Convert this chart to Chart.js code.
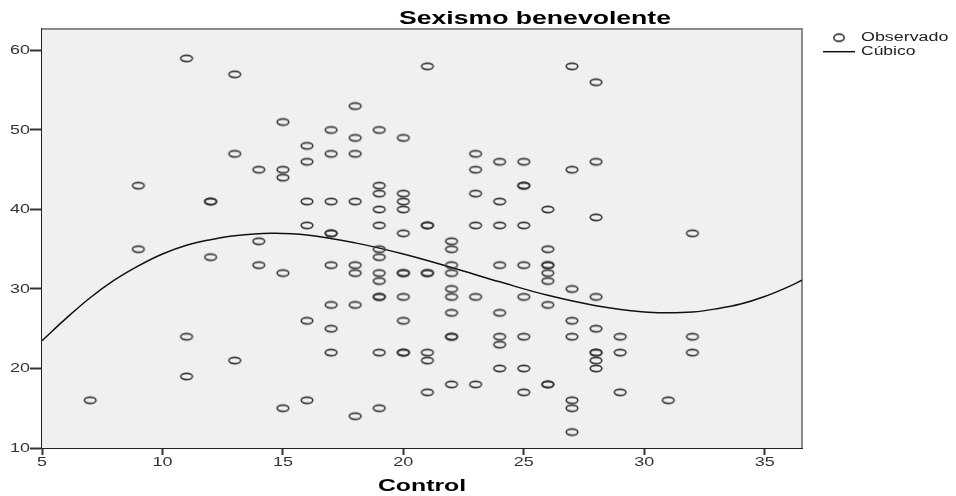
<!DOCTYPE html>
<html>
<head>
<meta charset="utf-8">
<script src="https://cdn.jsdelivr.net/npm/chart.js@4/dist/chart.umd.min.js"></script>
<style>
    html, body { margin: 0; padding: 0; background: #fff; }
    #wrap { width: 956px; height: 496px; position: relative; }
</style>
</head>
<body>
<div id="wrap"><canvas id="myChart"></canvas></div>
<script>
// Observed points: Control (x) and Sexismo benevolente (y)
const control = [
    7,
    9, 9,
    11, 11, 11,
    12, 12, 12,
    13, 13, 13,
    14, 14, 14,
    15, 15, 15, 15, 15,
    16, 16, 16, 16, 16, 16,
    17, 17, 17, 17, 17, 17, 17, 17, 17,
    18, 18, 18, 18, 18, 18, 18, 18,
    19, 19, 19, 19, 19, 19, 19, 19, 19, 19, 19, 19, 19,
    20, 20, 20, 20, 20, 20, 20, 20, 20, 20, 20,
    21, 21, 21, 21, 21, 21, 21, 21,
    22, 22, 22, 22, 22, 22, 22, 22, 22, 22,
    23, 23, 23, 23, 23, 23,
    24, 24, 24, 24, 24, 24, 24, 24,
    25, 25, 25, 25, 25, 25, 25, 25, 25,
    26, 26, 26, 26, 26, 26, 26, 26, 26,
    27, 27, 27, 27, 27, 27, 27, 27,
    28, 28, 28, 28, 28, 28, 28, 28, 28,
    29, 29, 29,
    31,
    32, 32, 32
];
const sexismo = [
    16,
    43, 35,
    59, 24, 19,
    41, 41, 34,
    57, 47, 21,
    45, 36, 33,
    51, 45, 44, 32, 15,
    48, 46, 41, 38, 26, 16,
    50, 47, 41, 37, 37, 33, 28, 25, 22,
    53, 49, 47, 41, 33, 32, 28, 14,
    50, 43, 42, 40, 38, 35, 34, 32, 31, 29, 29, 22, 15,
    49, 42, 41, 40, 37, 32, 32, 29, 26, 22, 22,
    58, 38, 38, 32, 32, 22, 21, 17,
    36, 35, 33, 32, 30, 29, 27, 24, 24, 18,
    47, 45, 42, 38, 29, 18,
    46, 41, 38, 33, 27, 24, 23, 20,
    46, 43, 43, 38, 33, 29, 24, 20, 17,
    40, 35, 33, 33, 32, 31, 28, 18, 18,
    58, 45, 30, 26, 24, 16, 15, 12,
    56, 46, 39, 29, 25, 22, 22, 21, 20,
    24, 22, 17,
    16,
    37, 24, 22
];

// Cubic fit line
const fitX = [5, 6, 7, 8, 9, 10, 11, 12, 13, 14.5, 16, 18, 20, 22, 24, 26, 28, 30, 31, 32, 33, 34, 35, 36, 36.55];
const fitY = [23.5, 26.3, 28.9, 31.1, 32.9, 34.4, 35.5, 36.2, 36.7, 37, 36.8, 35.8, 34.4, 32.7, 30.9, 29.2, 27.9, 27.1, 27, 27.1, 27.5, 28.1, 29.05, 30.3, 31.1];

// Axis ticks
const xTicks = [5, 10, 15, 20, 25, 30, 35];
const yTicks = [10, 20, 30, 40, 50, 60];

const FONT = "'Liberation Sans', Arial, sans-serif";

// Small ellipse used as the marker (the picture is stretched sideways)
function makeMarker(rx, ry) {
    const c = document.createElement('canvas');
    c.width = 16;
    c.height = 11;
    const g = c.getContext('2d');
    g.strokeStyle = '#383838';
    g.lineWidth = 1.6;
    g.beginPath();
    g.ellipse(8, 5.5, rx, ry, 0, 0, Math.PI * 2);
    g.stroke();
    return c;
}
const marker = makeMarker(5.8, 3.1);
const legendMarker = makeMarker(5.2, 3.6);

// Draw text squeezed/stretched horizontally
function wideText(ctx, text, x, y, font, sx, align, color) {
    ctx.save();
    ctx.font = font;
    ctx.fillStyle = color;
    ctx.textAlign = align;
    ctx.textBaseline = 'middle';
    ctx.translate(x, y);
    ctx.scale(sx, 1);
    ctx.fillText(text, 0, 0);
    ctx.restore();
}

// Plot background, frame, labels and legend
const decorations = {
    id: 'decorations',
    beforeDatasetsDraw(chart) {
        const { ctx, chartArea: a } = chart;
        ctx.save();
        ctx.fillStyle = '#f0f0f0';
        ctx.fillRect(a.left, a.top, a.right - a.left, a.bottom - a.top);
        ctx.strokeStyle = '#8a8a8a';
        ctx.lineWidth = 2;
        ctx.beginPath();
        ctx.moveTo(a.left, a.top);
        ctx.lineTo(a.right, a.top);
        ctx.lineTo(a.right, a.bottom);
        ctx.stroke();
        ctx.restore();
    },
    afterDraw(chart) {
        const { ctx, chartArea: a, scales } = chart;
        const tickFont = '13px ' + FONT;

        xTicks.forEach(v => {
            wideText(ctx, String(v), scales.x.getPixelForValue(v), a.bottom + 14, tickFont, 1.38, 'center', '#333');
        });
        yTicks.forEach(v => {
            wideText(ctx, String(v), a.left - 12, scales.y.getPixelForValue(v), tickFont, 1.38, 'right', '#333');
        });

        // titles
        wideText(ctx, 'Sexismo benevolente', 535, 19, 'bold 17.5px ' + FONT, 1.52, 'center', '#000');
        wideText(ctx, 'Control', (a.left + a.right) / 2, 487, 'bold 16px ' + FONT, 1.55, 'center', '#000');

        // legend
        ctx.drawImage(legendMarker, 839 - 8, 37.7 - 5.5);
        wideText(ctx, 'Observado', 861, 37.7, '12.5px ' + FONT, 1.43, 'left', '#222');
        ctx.save();
        ctx.strokeStyle = '#111';
        ctx.lineWidth = 1.5;
        ctx.beginPath();
        ctx.moveTo(823, 51.7);
        ctx.lineTo(855, 51.7);
        ctx.stroke();
        ctx.restore();
        wideText(ctx, 'Cúbico', 861, 51.7, '12.5px ' + FONT, 1.4, 'left', '#222');
    }
};

const data = {
    datasets: [
        {
            label: 'Observado',
            data: control.map((c, i) => ({ x: c, y: sexismo[i] })),
            pointStyle: marker,
            pointRadius: 5,
            showLine: false
        },
        {
            label: 'Cúbico',
            data: fitX.map((x, i) => ({ x: x, y: fitY[i] })),
            showLine: true,
            pointRadius: 0,
            borderColor: '#111',
            borderWidth: 1.5,
            tension: 0.4,
            fill: false
        }
    ]
};

const config = {
    type: 'scatter',
    data: data,
    options: {
        responsive: false,
        animation: false,
        events: [],
        layout: {
            padding: { top: 29, right: 154, left: 0, bottom: 0 }
        },
        plugins: {
            legend: { display: false },
            title: { display: false },
            tooltip: { enabled: false }
        },
        scales: {
            x: {
                type: 'linear',
                min: 5,
                max: 36.55,
                afterBuildTicks: s => { s.ticks = xTicks.map(v => ({ value: v })); },
                afterFit: s => { s.height = 48; },
                ticks: { display: false },
                grid: { drawOnChartArea: false, drawTicks: true, tickLength: 7, tickWidth: 2, color: '#333' },
                border: { display: true, color: '#222', width: 2 }
            },
            y: {
                type: 'linear',
                min: 10,
                max: 62.7,
                afterBuildTicks: s => { s.ticks = yTicks.map(v => ({ value: v })); },
                afterFit: s => { s.width = 42; },
                ticks: { display: false },
                grid: { drawOnChartArea: false, drawTicks: true, tickLength: 12, tickWidth: 2, color: '#333' },
                border: { display: true, color: '#222', width: 2 }
            }
        }
    },
    plugins: [decorations]
};

const canvas = document.getElementById('myChart');
canvas.width = 956;
canvas.height = 496;
const myChart = new Chart(canvas, config);
</script>
</body>
</html>
